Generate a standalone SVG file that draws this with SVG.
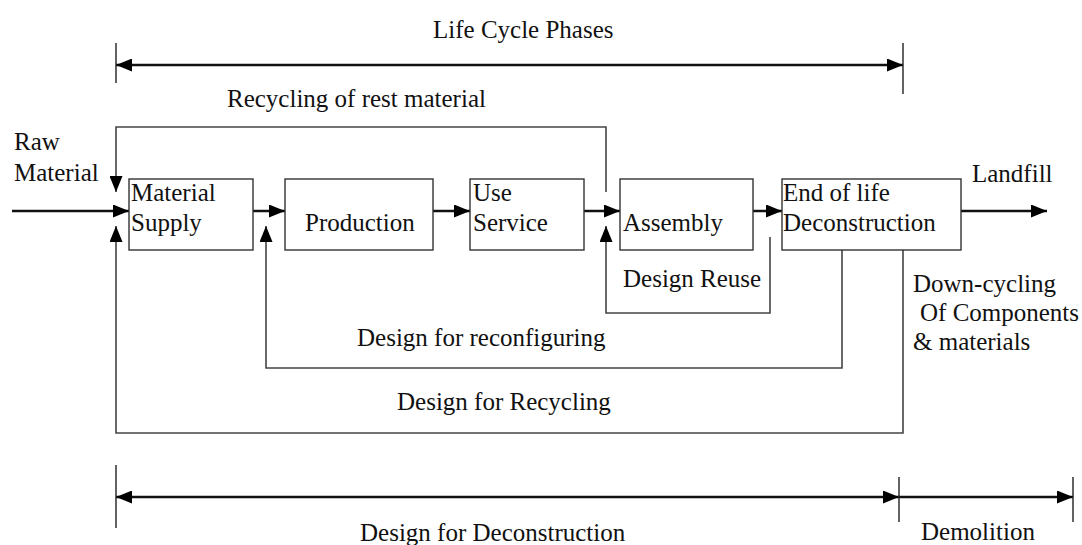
<svg xmlns="http://www.w3.org/2000/svg" width="1082" height="545" viewBox="0 0 1082 545">
<defs>
<style>
text{font-family:"Liberation Serif","Times New Roman",serif;font-size:25px;fill:#111;}
.box{fill:#fff;stroke:#333;stroke-width:1.4;}
.flow{fill:none;stroke:#111;stroke-width:2.5;}
.loop{fill:none;stroke:#444;stroke-width:1.6;}
.dim{fill:none;stroke:#111;stroke-width:2.5;}
.tick{fill:none;stroke:#222;stroke-width:1.4;}
</style>
<marker id="ah" markerUnits="userSpaceOnUse" markerWidth="16" markerHeight="13" refX="16" refY="6.5" orient="auto-start-reverse" viewBox="0 0 16 13">
<path d="M0,0 L16,6.5 L0,13 z" fill="#000"/>
</marker>
</defs>
<rect width="1082" height="545" fill="#fff"/>
<g id="connectors">
<path class="flow" d="M12,211 H129" marker-end="url(#ah)"/>
<path class="flow" d="M253,211 H285" marker-end="url(#ah)"/>
<path class="flow" d="M433,211 H470" marker-end="url(#ah)"/>
<path class="flow" d="M584,211 H620" marker-end="url(#ah)"/>
<path class="flow" d="M753,211 H782" marker-end="url(#ah)"/>
<path class="flow" d="M961,211 H1047" marker-end="url(#ah)"/>
<path class="loop" d="M606,192 V127 H116 V192" marker-end="url(#ah)"/>
<path class="loop" d="M770,237 V313 H606 V226" marker-end="url(#ah)"/>
<path class="loop" d="M842,250 V368 H266 V226" marker-end="url(#ah)"/>
<path class="loop" d="M903,250 V433 H116 V226" marker-end="url(#ah)"/>
<path class="dim" d="M116,65 H903" marker-start="url(#ah)" marker-end="url(#ah)"/>
<path class="tick" d="M116,43 V83 M903,43 V94"/>
<path class="dim" d="M116,497 H899" marker-start="url(#ah)" marker-end="url(#ah)"/>
<path class="dim" d="M899,497 H1073" marker-end="url(#ah)"/>
<path class="tick" d="M116,465 V528 M899,477 V522 M1073,477 V522"/>
</g>
<g id="material-supply">
<rect class="box" x="129" y="179" width="124" height="71"/>
<text x="131" y="201">Material</text>
<text x="131" y="231">Supply</text>
</g>
<g id="production">
<rect class="box" x="285" y="179" width="148" height="71"/>
<text x="305" y="231">Production</text>
</g>
<g id="use-service">
<rect class="box" x="470" y="179" width="114" height="71"/>
<text x="473" y="201">Use</text>
<text x="473" y="231">Service</text>
</g>
<g id="assembly">
<rect class="box" x="620" y="179" width="133" height="71"/>
<text x="623" y="231">Assembly</text>
</g>
<g id="end-of-life">
<rect class="box" x="782" y="179" width="179" height="71"/>
<text x="783" y="201">End of life</text>
<text x="783" y="231">Deconstruction</text>
</g>
<g id="labels">
<text x="433" y="38">Life Cycle Phases</text>
<text x="227" y="107">Recycling of rest material</text>
<text x="14" y="150">Raw</text>
<text x="14" y="181">Material</text>
<text x="972" y="182">Landfill</text>
<text x="623" y="287">Design Reuse</text>
<text x="913" y="292">Down-cycling</text>
<text x="920" y="321">Of Components</text>
<text x="913" y="350">&amp; materials</text>
<text x="357" y="346">Design for reconfiguring</text>
<text x="397" y="410">Design for Recycling</text>
<text x="360" y="541">Design for Deconstruction</text>
<text x="921" y="540">Demolition</text>
</g>
</svg>
